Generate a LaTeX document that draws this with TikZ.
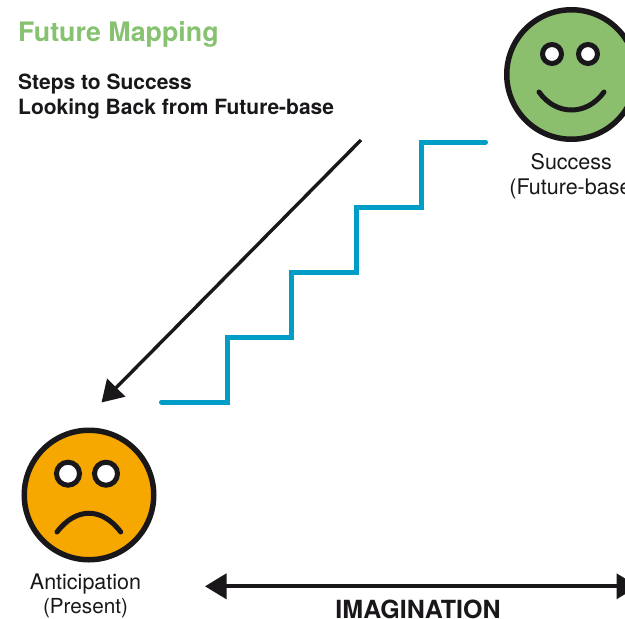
\documentclass[tikz,border=0pt]{standalone}
\usepackage{fontspec}
\setmainfont{TeX Gyre Heros}
\usetikzlibrary{arrows.meta}
\definecolor{facegreen}{HTML}{8BBF6E}
\definecolor{titlegreen}{HTML}{86C270}
\definecolor{faceorange}{HTML}{F7A800}
\definecolor{stepblue}{HTML}{009DC6}
\definecolor{inkblack}{HTML}{1A171B}
\tikzset{
  face/.style={circle,draw=inkblack,line width=5.5pt,minimum size=129.5pt,inner sep=0pt},
  eyeball/.style={circle,draw=inkblack,fill=white,line width=5pt,inner sep=0pt},
  mouth/.style={draw=inkblack,line width=5pt,line cap=round},
  stairs/.style={draw=stepblue,line width=5pt,line cap=round,line join=miter},
  label/.style={text=inkblack,font=\fontsize{21.5}{25}\selectfont,align=center},
  heading/.style={anchor=base west,font=\bfseries\fontsize{21}{25}\selectfont,text=inkblack,align=left,inner sep=0pt},
}
\begin{document}
\begin{tikzpicture}[x=1pt,y=-1pt]
\useasboundingbox (0,0) rectangle (625,619);
\clip (0,0) rectangle (625,619);
\node[anchor=base west,inner sep=0pt,text=titlegreen,font=\bfseries\fontsize{26.8}{30}\selectfont] (title) at (18,41) {Future Mapping};
\node[heading] (sub1) at (18,89) {Steps to Success};
\node[heading] (sub2) at (18,114) {Looking Back from Future-base};
% success face
\node[face,fill=facegreen] (good) at (571.5,74.5) {};
\node[eyeball,minimum size=19pt] (gl) at (552,54) {};
\node[eyeball,minimum size=19pt] (gr) at (588,54) {};
\coordinate (sl) at (539,92);
\coordinate (sr) at (604,92);
\draw[mouth] (sl) .. controls (556,116) and (587,116) .. (sr);
\node[label,anchor=base] (goodlabel) at (571.3,169.5) {Success};
\node[label,anchor=base] (goodlabel2) at (574,194.5) {(Future-base)};
% anticipation face
\node[face,fill=faceorange] (bad) at (89,495) {};
\node[eyeball,minimum size=23pt] (bl) at (68,473.7) {};
\node[eyeball,minimum size=23pt] (br) at (106,473.7) {};
\coordinate (fl) at (57,532);
\coordinate (fr) at (120.7,532);
\draw[mouth] (fl) .. controls (76,507) and (102,507) .. (fr);
\node[label,anchor=base] (badlabel) at (85.5,589) {Anticipation};
\node[label,anchor=base,font=\fontsize{20.7}{25}\selectfont] (badlabel2) at (85.5,613) {(Present)};
% stairs
\coordinate (s0) at (161.5,402);
\coordinate (s1) at (485.5,142);
\draw[stairs] (s0) -- (227,402) -- (227,337) -- (291,337) -- (291,272) -- (356,272) -- (356,207) -- (421,207) -- (421,142) -- (s1);
% arrows
\coordinate (a0) at (361,140);
\coordinate (a1) at (101.5,402.5);
\draw[draw=inkblack,line width=3.4pt,-{Triangle[length=21pt,width=25pt,fill=inkblack]}] (a0) -- (a1);
\coordinate (h0) at (205,586.3);
\coordinate (h1) at (638,586.3);
\draw[draw=inkblack,line width=3.8pt,{Triangle[length=21.5pt,width=25pt,fill=inkblack]}-{Triangle[length=21.5pt,width=25pt,fill=inkblack]}] (h0) -- (h1);
\node[anchor=base,inner sep=0pt,text depth=0pt,text=inkblack,font=\bfseries\fontsize{25}{28}\selectfont] (imag) at (418,618) {IMAGINATION};
\end{tikzpicture}
\end{document}
